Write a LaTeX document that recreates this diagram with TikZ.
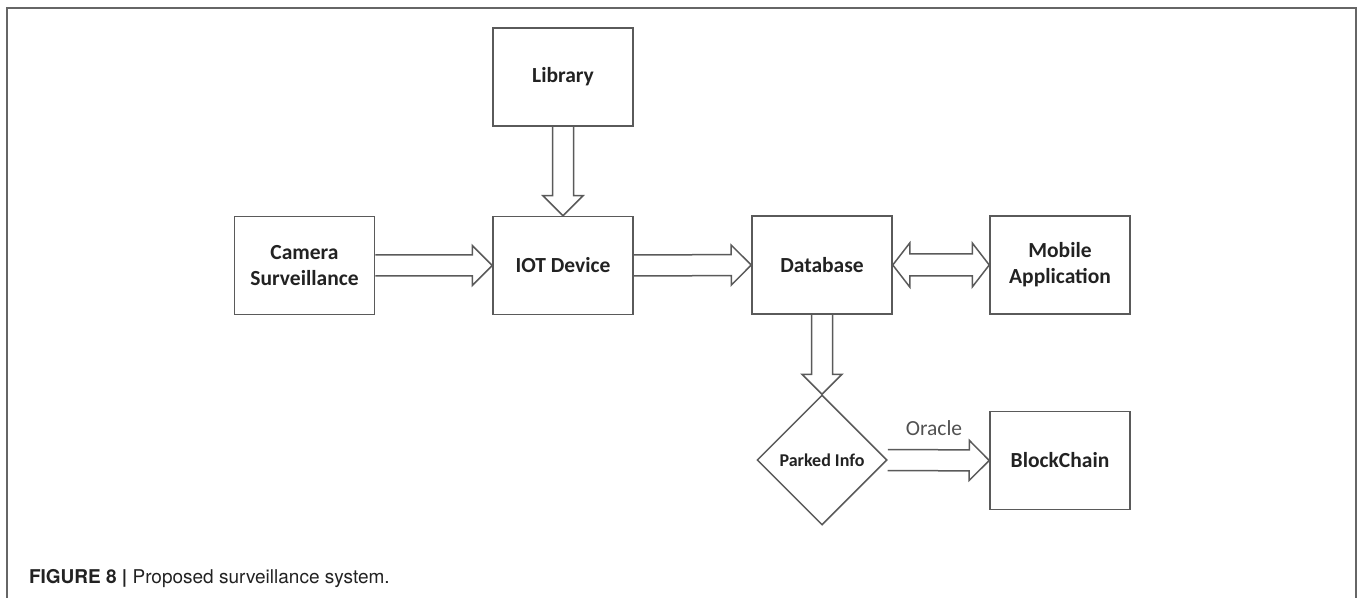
\documentclass[tikz,border=0pt]{standalone}
\usepackage{fontspec}
\setmainfont{Carlito}
\newfontfamily\capfont{TeX Gyre Heros}
\usetikzlibrary{calc,shapes.geometric}
\definecolor{edge}{HTML}{5A5A5A}
\definecolor{ink}{HTML}{222222}

\begin{document}
\begin{tikzpicture}[x=0.5pt,y=-0.5pt,
    box/.style={draw=edge, line width=0.75pt, minimum width=70pt, minimum height=49pt,
        inner sep=2pt, align=center, text=ink, font=\fontsize{10.75}{13}\selectfont\bfseries},
    parked/.style={diamond, aspect=1, draw=edge, line width=0.75pt, minimum width=65pt,
        minimum height=65pt, inner sep=0pt, text=ink, font=\fontsize{9}{11}\selectfont\bfseries},
    % hollow block arrow, open at its tail
    fat/.style={draw=edge, line width=0.75pt, line join=miter, to path={
        ($(\tikztostart)!5.25pt!90:(\tikztotarget)$)
        -- ($(\tikztotarget)!10pt!(\tikztostart)!5.25pt!90:(\tikztotarget)$)
        -- ($(\tikztotarget)!10pt!(\tikztostart)!10pt!90:(\tikztotarget)$)
        -- (\tikztotarget)
        -- ($(\tikztotarget)!10pt!(\tikztostart)!10pt!-90:(\tikztotarget)$)
        -- ($(\tikztotarget)!10pt!(\tikztostart)!5.25pt!-90:(\tikztotarget)$)
        -- ($(\tikztostart)!5.25pt!-90:(\tikztotarget)$)}},
    % hollow block arrow with a head at both ends
    fatboth/.style={draw=edge, line width=0.75pt, line join=miter, to path={
        ($(\tikztostart)!8.5pt!(\tikztotarget)!5.5pt!90:(\tikztotarget)$)
        -- ($(\tikztotarget)!8.5pt!(\tikztostart)!5.5pt!90:(\tikztotarget)$)
        -- ($(\tikztotarget)!8.5pt!(\tikztostart)!11pt!90:(\tikztotarget)$)
        -- (\tikztotarget)
        -- ($(\tikztotarget)!8.5pt!(\tikztostart)!11pt!-90:(\tikztotarget)$)
        -- ($(\tikztotarget)!8.5pt!(\tikztostart)!5.5pt!-90:(\tikztotarget)$)
        -- ($(\tikztostart)!8.5pt!(\tikztotarget)!5.5pt!-90:(\tikztotarget)$)
        -- ($(\tikztostart)!8.5pt!(\tikztotarget)!11pt!-90:(\tikztotarget)$)
        -- (\tikztostart)
        -- ($(\tikztostart)!8.5pt!(\tikztotarget)!11pt!90:(\tikztotarget)$)
        -- cycle}}]

    \useasboundingbox (0,0) rectangle (1358,598);
    \draw[gray!80!black, line width=0.6pt] (7,598) -- (7,8) -- (1356,8) -- (1356,598);

    % blocks
    \node[box] (lib) at (563,77) {Library};
    \node[box] (cam) at (304.5,265.5) {Camera\\Surveillance};
    \node[box] (iot) at (563,265.5) {IOT Device};
    \node[box] (db) at (822,265) {Database};
    \node[box] (mob) at (1060,265) {Mobile\\Application};
    \node[parked] (info) at (822,460) {Parked Info};
    \node[box] (chain) at (1060,460.5) {BlockChain};
    \node[text=edge!90!black, font=\fontsize{10.75}{13}\selectfont] (orc) at (934,428) {Oracle};

    % flows
    \draw[fat] (lib.south) to (iot.north);
    \draw[fat] (cam.east) to (iot.west);
    \draw[fat] (iot.east) to (db.west);
    \draw[fatboth] (db.east) to (mob.west);
    \draw[fat] (db.south) to (info.north);
    \draw[fat] (info.east) to (chain.west);

    \node[anchor=base west, text=ink, font=\capfont\fontsize{9.5}{11}\selectfont] (cap) at (22,583)
        {\textbf{FIGURE 8 |} Proposed surveillance system.};
\end{tikzpicture}
\end{document}
